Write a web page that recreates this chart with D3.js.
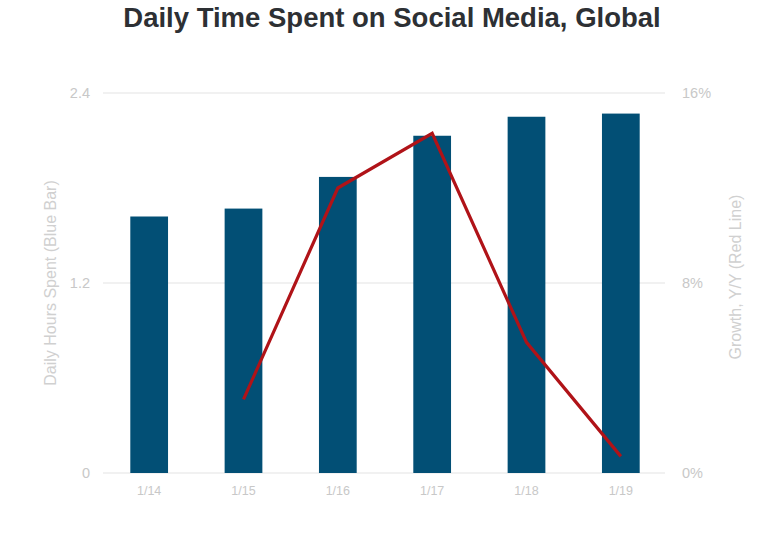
<!DOCTYPE html>
<html><head><meta charset="utf-8">
<script src="https://cdn.jsdelivr.net/npm/d3@7"></script>
<style>body{margin:0;background:#fff;font-family:"Liberation Sans",Arial,sans-serif;}</style>
</head><body>
<svg id="c" width="782" height="545"></svg>
<script>
const categories = ["1/14","1/15","1/16","1/17","1/18","1/19"];
const hours = [1.62, 1.67, 1.87, 2.13, 2.25, 2.27];
const growth = [null, 3.1, 12.0, 14.3, 5.5, 0.7];
const leftTicks = [0, 1.2, 2.4];
const rightTicks = [0, 8, 16];

const svg = d3.select("#c");
const x = d3.scaleBand().domain(categories).range([102, 668]).paddingInner(0.6).paddingOuter(0.3);
const yL = d3.scaleLinear().domain([0, 2.4]).range([473, 93]);
const yR = d3.scaleLinear().domain([0, 16]).range([473, 93]);

svg.append("text").attr("x", 392).attr("y", 27).attr("text-anchor", "middle")
  .attr("font-size", 27.5).attr("font-weight", "bold").attr("fill", "#2d3034")
  .text("Daily Time Spent on Social Media, Global");

// gridlines
svg.append("g").selectAll("line").data(leftTicks).join("line")
  .attr("x1", 103).attr("x2", 665).attr("y1", d => yL(d)).attr("y2", d => yL(d))
  .attr("stroke", "#e3e3e3").attr("stroke-width", 1);

// left axis labels
const lAxis = svg.append("g").attr("transform", "translate(96,0)")
  .call(d3.axisLeft(yL).tickValues(leftTicks).tickSize(0).tickPadding(6).tickFormat(d => d === 0 ? "0" : d3.format(".1f")(d)));
lAxis.select(".domain").remove();
lAxis.selectAll("text").attr("fill", "#c8c8c8").attr("font-size", 14.5).attr("font-family", "Liberation Sans, Arial, sans-serif");

// right axis labels
const rAxis = svg.append("g").attr("transform", "translate(676,0)")
  .call(d3.axisRight(yR).tickValues(rightTicks).tickSize(0).tickPadding(6).tickFormat(d => d + "%"));
rAxis.select(".domain").remove();
rAxis.selectAll("text").attr("fill", "#c8c8c8").attr("font-size", 14.5).attr("font-family", "Liberation Sans, Arial, sans-serif");

// bottom axis labels
const bAxis = svg.append("g").attr("transform", "translate(0,480)")
  .call(d3.axisBottom(x).tickSize(0).tickPadding(6));
bAxis.select(".domain").remove();
bAxis.selectAll("text").attr("fill", "#c8c8c8").attr("font-size", 12.5).attr("font-family", "Liberation Sans, Arial, sans-serif");

// axis titles
svg.append("text").attr("transform", "translate(56,283) rotate(-90)").attr("text-anchor", "middle")
  .attr("font-size", 16).attr("fill", "#d0d0d0").text("Daily Hours Spent (Blue Bar)");
svg.append("text").attr("transform", "translate(741,277) rotate(-90)").attr("text-anchor", "middle")
  .attr("font-size", 16).attr("fill", "#d0d0d0").text("Growth, Y/Y (Red Line)");

// bars
svg.append("g").selectAll("rect").data(categories).join("rect")
  .attr("x", d => x(d)).attr("width", x.bandwidth())
  .attr("y", (d, i) => yL(hours[i])).attr("height", (d, i) => yL(0) - yL(hours[i]))
  .attr("fill", "#024f75");

// line
const pts = categories.map((c, i) => ({c, v: growth[i]})).filter(p => p.v !== null);
svg.append("path").datum(pts)
  .attr("d", d3.line().x(p => x(p.c) + x.bandwidth() / 2).y(p => yR(p.v)))
  .attr("fill", "none").attr("stroke", "#b01318").attr("stroke-width", 3.2).attr("stroke-linejoin", "miter");
</script>
</body></html>
